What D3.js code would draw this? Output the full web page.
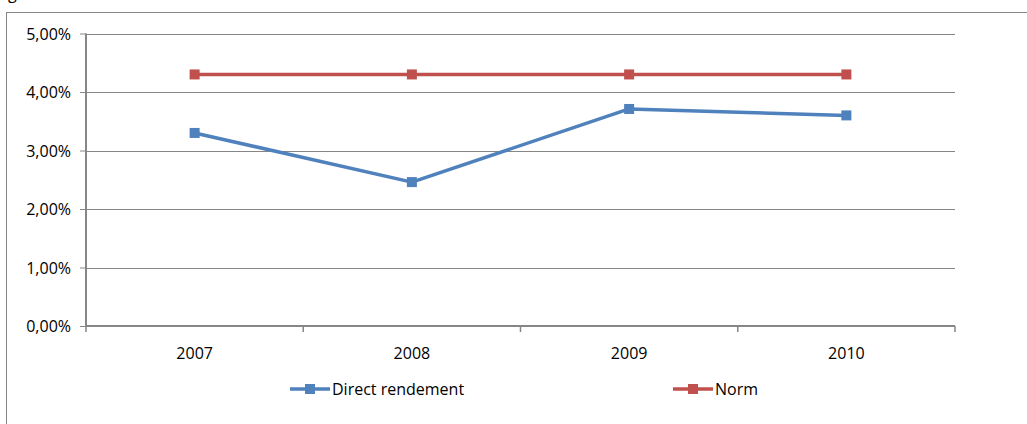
<!DOCTYPE html>
<html><head><meta charset="utf-8">
<script src="https://cdn.jsdelivr.net/npm/d3@7"></script>
<style>body{margin:0;background:#fff}svg{display:block}text{font-family:"Open Sans",sans-serif;fill:#000}</style>
</head><body>
<svg id="c" width="1027" height="424"></svg>
<script>
const years = ["2007","2008","2009","2010"];
const directRendement = [0.033, 0.0246, 0.0371, 0.0360];
const norm = [0.043, 0.043, 0.043, 0.043];
const yTicks = [0, 0.01, 0.02, 0.03, 0.04, 0.05];
const seriesNames = ["Direct rendement", "Norm"];
const colors = ["#4F81BD", "#C0504D"];

const svg = d3.select("#c");
const L = 86, R = 955, T = 33.5, B = 326;
const x = d3.scaleBand().domain(years).range([L, R]);
const y = d3.scaleLinear().domain([0, 0.05]).range([B, T]);
const fmt = v => d3.format(".2f")(v * 100).replace(".", ",") + "%";

// partial caption glyph at top (cut off in the reference too)
svg.append("text").attr("x", 8).attr("y", -1).style("font-size", "16px").text("g");

// outer chart border
svg.append("rect").attr("x", 6.5).attr("y", 12.5).attr("width", 1100).attr("height", 500)
  .attr("fill", "none").attr("stroke", "#868686").attr("stroke-width", 1);

// gridlines
svg.append("g").selectAll("line").data(yTicks.filter(d => d > 0)).join("line")
  .attr("x1", L).attr("x2", R).attr("y1", d => Math.round(y(d)) + 0.5).attr("y2", d => Math.round(y(d)) + 0.5)
  .attr("stroke", "#868686").attr("stroke-width", 1);

// y axis
const ya = svg.append("g").attr("transform", `translate(${L},0)`)
  .call(d3.axisLeft(y).tickValues(yTicks).tickFormat(fmt).tickSize(6).tickPadding(9));
ya.select(".domain").attr("stroke", "#868686").attr("stroke-width", 2).attr("d", `M0,${T}V${B}`);
ya.selectAll(".tick line").attr("stroke", "#868686").attr("stroke-width", 1);
ya.selectAll(".tick text").style("font-size", "16px").attr("fill", "#000").attr("dy", "0.35em");

// x axis
const xa = svg.append("g").attr("transform", `translate(0,${B})`)
  .call(d3.axisBottom(x).tickSize(0).tickPadding(22));
xa.select(".domain").attr("stroke", "#868686").attr("stroke-width", 2).attr("d", `M${L},0H${R}`);
xa.selectAll(".tick text").style("font-size", "16px").attr("fill", "#000");
const bounds = years.map(d => x(d)).concat([R]);
xa.append("g").selectAll("line").data(bounds).join("line")
  .attr("x1", d => d).attr("x2", d => d).attr("y1", 0).attr("y2", 6)
  .attr("stroke", "#868686").attr("stroke-width", 1.5);

// series
const cx = d => x(d) + x.bandwidth() / 2;
const line = d3.line().x((d, i) => cx(years[i])).y(d => y(d));
[directRendement, norm].forEach((vals, si) => {
  svg.append("path").datum(vals).attr("d", line).attr("fill", "none")
    .attr("stroke", colors[si]).attr("stroke-width", 3.5).attr("stroke-linejoin", "round");
  svg.append("g").selectAll("rect").data(vals).join("rect")
    .attr("x", (d, i) => cx(years[i]) - 5).attr("y", d => y(d) - 5)
    .attr("width", 10).attr("height", 10).attr("fill", colors[si]);
});

// legend
const legX = [290, 673];
seriesNames.forEach((n, i) => {
  const g = svg.append("g").attr("transform", `translate(${legX[i]},389)`);
  g.append("line").attr("x1", 0).attr("x2", 40).attr("stroke", colors[i]).attr("stroke-width", 3.5);
  g.append("rect").attr("x", 15).attr("y", -5).attr("width", 10).attr("height", 10).attr("fill", colors[i]);
  g.append("text").attr("x", 42).attr("dy", "0.35em").style("font-size", "16px").text(n);
});
</script>
</body></html>
